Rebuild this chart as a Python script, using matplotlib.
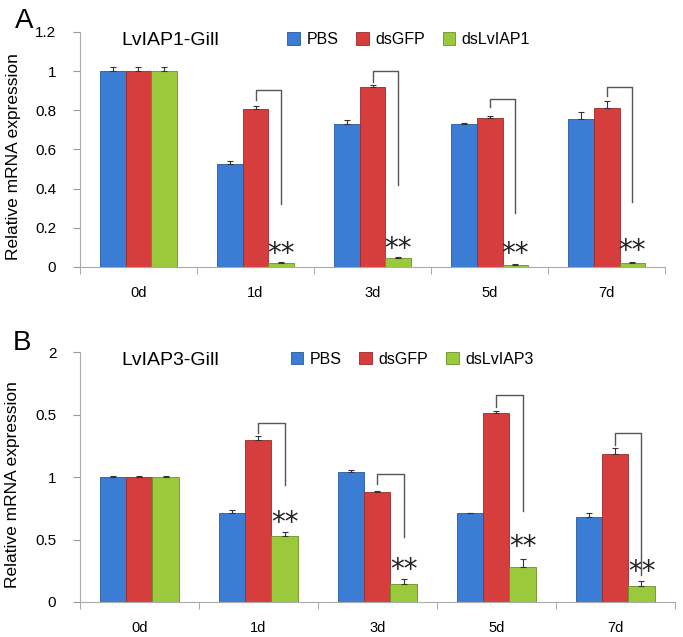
import matplotlib
matplotlib.use('Agg')
import matplotlib.pyplot as plt
import numpy as np

plt.rcParams['font.family'] = ['Liberation Sans', 'DejaVu Sans']

days = ['0d', '1d', '3d', '5d', '7d']

# panel A - LvIAP1
a_pbs = [1.0, 0.527, 0.73, 0.73, 0.755]
a_pbs_err = [0.022, 0.013, 0.022, 0.003, 0.034]
a_gfp = [1.0, 0.807, 0.92, 0.762, 0.812]
a_gfp_err = [0.022, 0.016, 0.009, 0.010, 0.036]
a_ds = [1.0, 0.022, 0.046, 0.012, 0.022]
a_ds_err = [0.022, 0.002, 0.004, 0.003, 0.002]
# bracket: (bottom left, top, bottom right), star y
a_brk = [None, (0.853, 0.904, 0.321), (0.946, 1.002, 0.419), (0.814, 0.858, 0.275), (0.870, 0.916, 0.333)]
a_star = [None, 0.068, 0.093, 0.064, 0.081]

# panel B - LvIAP3
b_pbs = [1.0, 0.712, 1.041, 0.709, 0.68]
b_pbs_err = [0.012, 0.024, 0.016, 0.005, 0.029]
b_gfp = [1.0, 1.296, 0.879, 1.514, 1.182]
b_gfp_err = [0.01, 0.032, 0.011, 0.018, 0.048]
b_ds = [1.0, 0.531, 0.141, 0.284, 0.130]
b_ds_err = [0.012, 0.032, 0.040, 0.059, 0.035]
b_brk = [None, (1.355, 1.434, 0.938), (0.943, 1.023, 0.523), (1.559, 1.655, 0.730), (1.256, 1.355, 0.212)]
b_star = [None, 0.63, 0.258, 0.444, 0.24]

colors = ['#3b7dd4', '#d63e3e', '#9bc93c']
edges = ['#28589c', '#9c2a2a', '#6a9223']

fig = plt.figure(figsize=(6.83, 6.37), dpi=100)
axA = fig.add_axes([0.117, 0.581, 0.857, 0.369])
axB = fig.add_axes([0.117, 0.055, 0.871, 0.392])

x = np.arange(len(days))
w = 0.22


def draw_panel(ax, vals, errs, brk, star, ymax, yticks, yticklabels, title, labels):
    for k in range(3):
        ax.bar(x + (k - 1) * w, vals[k], w, color=colors[k], edgecolor=edges[k],
               linewidth=0.6, label=labels[k], zorder=2)
        ax.errorbar(x + (k - 1) * w, vals[k], yerr=[np.zeros(5), errs[k]], fmt='none',
                    ecolor='#333333', elinewidth=0.8, capsize=2.5, capthick=0.8, zorder=3)
    for i in range(len(days)):
        if brk[i] is None:
            continue
        lo, top, ro = brk[i]
        ax.plot([i, i, i + w, i + w], [lo, top, top, ro], color='#555555', lw=1, zorder=4)
        ax.text(i + w, star[i], '**', ha='center', va='center', fontsize=20,
                family='DejaVu Sans', color='#222222')
    ax.set_xlim(-0.5, 4.5)
    ax.set_ylim(0, ymax)
    ax.set_yticks(yticks)
    ax.set_yticklabels(yticklabels, fontsize=11)
    ax.set_xticks(x)
    ax.set_xticklabels(days, fontsize=10.5)
    ax.set_xticks(np.arange(-0.5, 5, 1), minor=True)
    ax.tick_params(axis='x', which='major', length=0, pad=14)
    ax.tick_params(axis='x', which='minor', length=5, color='#999999', direction='out')
    ax.tick_params(axis='y', length=5, color='#999999', direction='out', pad=12)
    for s in ['top', 'right']:
        ax.spines[s].set_visible(False)
    for s in ['left', 'bottom']:
        ax.spines[s].set_color('#aaaaaa')
    ax.set_ylabel('Relative mRNA expression', fontsize=12.5, labelpad=5)
    ax.yaxis.set_label_coords(-0.1, 0.47)
    ax.text(0.07, 1.0, title, transform=ax.transAxes, fontsize=14, va='top', ha='left')
    ax.legend(loc='upper left', bbox_to_anchor=(0.33, 1.06), ncol=3, frameon=False,
              fontsize=11.5, handlelength=0.8, handleheight=0.8, handletextpad=0.4,
              columnspacing=1.1)


draw_panel(axA, [a_pbs, a_gfp, a_ds], [a_pbs_err, a_gfp_err, a_ds_err], a_brk, a_star,
           1.2, [0, 0.2, 0.4, 0.6, 0.8, 1.0, 1.2], ['0', '0.2', '0.4', '0.6', '0.8', '1', '1.2'],
           'LvIAP1-Gill', ['PBS', 'dsGFP', 'dsLvIAP1'])
draw_panel(axB, [b_pbs, b_gfp, b_ds], [b_pbs_err, b_gfp_err, b_ds_err], b_brk, b_star,
           2.0, [0, 0.5, 1.0, 1.5, 2.0], ['0', '0.5', '1', '0.5', '2'],
           'LvIAP3-Gill', ['PBS', 'dsGFP', 'dsLvIAP3'])

fig.text(0.022, 0.988, 'A', fontsize=20, va='top')
fig.text(0.018, 0.482, 'B', fontsize=20, va='top')

fig.savefig('out.png', dpi=100)
